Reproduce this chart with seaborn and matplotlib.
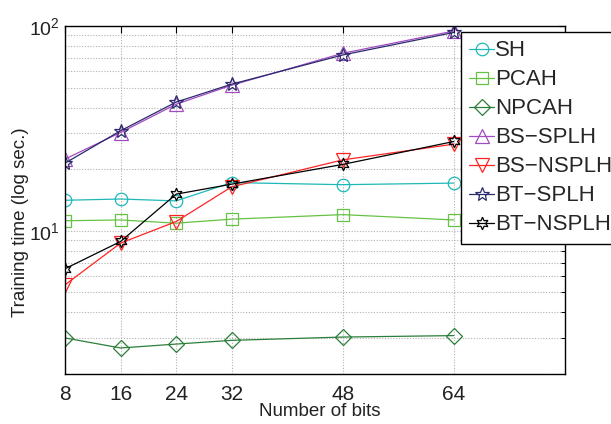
import numpy as np
import pandas as pd
import seaborn as sns
import matplotlib
matplotlib.use("Agg")
import matplotlib.pyplot as plt
from matplotlib.ticker import LogLocator, NullFormatter, FixedLocator

# Training time (seconds) per hashing method vs. code length
bits = [8, 16, 24, 32, 48, 64]
sh = [14.1, 14.3, 14.0, 17.2, 16.8, 17.1]
pcah = [11.2, 11.3, 10.9, 11.4, 12.0, 11.3]
npcah = [3.0, 2.68, 2.80, 2.92, 3.03, 3.08]
bs_splh = [22.4, 30.2, 41.5, 51.4, 73.6, 94.5]
bs_nsplh = [5.45, 8.71, 11.1, 16.4, 22.2, 26.5]
bt_splh = [21.4, 30.8, 42.5, 52.0, 72.2, 93.0]
bt_nsplh = [6.53, 8.87, 15.1, 16.9, 21.1, 27.3]

methods = ["SH", "PCAH", "NPCAH", "BS\u2212SPLH", "BS\u2212NSPLH", "BT\u2212SPLH", "BT\u2212NSPLH"]
series = [sh, pcah, npcah, bs_splh, bs_nsplh, bt_splh, bt_nsplh]
colors = ["#1fb8b8", "#66c244", "#2b7f3a", "#a24cc2", "#ff2424", "#2a2a6c", "#000000"]
markers = ["o", "s", "D", "^", "v", "*", (6, 1, 0)]
msizes = [9, 8, 8, 10, 10, 10, 9]

df = pd.concat(
    [pd.DataFrame({"bits": bits, "time": vals, "method": name})
     for name, vals in zip(methods, series)],
    ignore_index=True,
)

sns.set_theme(style="white")
plt.rcParams["font.family"] = ["Liberation Sans", "DejaVu Sans"]
plt.rcParams["mathtext.fontset"] = "custom"
plt.rcParams["mathtext.rm"] = "Liberation Sans"

fig = plt.figure(figsize=(6.11, 4.24), dpi=100)
ax = fig.add_axes([0.1064, 0.1179, 0.8183, 0.8208])

for name, col, mk, ms in zip(methods, colors, markers, msizes):
    sub = df[df["method"] == name]
    sns.lineplot(
        data=sub, x="bits", y="time", ax=ax, color=col, marker=mk,
        markersize=ms, markerfacecolor="none", markeredgecolor=col,
        markeredgewidth=0.9, linewidth=0.9, label=name,
    )

ax.set_yscale("log")
ax.set_xlim(8, 80)
ax.set_ylim(2, 100)
ax.set_xticks([8, 16, 24, 32, 48, 64])
ax.yaxis.set_major_locator(FixedLocator([10, 100]))
ax.yaxis.set_minor_locator(LogLocator(base=10, subs=np.arange(2, 10)))
ax.yaxis.set_minor_formatter(NullFormatter())

ax.grid(True, which="major", axis="both", linestyle=(0, (1, 1.5)), color="#b0b0b0", linewidth=0.8)
ax.grid(True, which="minor", axis="y", linestyle=(0, (1, 1.5)), color="#b0b0b0", linewidth=0.8)
ax.set_axisbelow(True)

for s in ax.spines.values():
    s.set_color("black")
    s.set_linewidth(1.0)
ax.tick_params(which="both", direction="in", top=True, right=True, color="black")
ax.tick_params(which="major", length=5, width=0.8, labelcolor="#222222")
ax.tick_params(axis="x", which="major", pad=8, labelsize=15)
ax.tick_params(axis="y", which="major", pad=4, labelsize=14)
ax.tick_params(which="minor", length=3, width=0.7)

ax.set_xlabel("Number of bits", fontsize=13.5, color="#222222")
ax.set_ylabel("Training time (log sec.)", fontsize=13.5, color="#222222")
ax.xaxis.set_label_coords(0.51, -0.082)
ax.yaxis.set_label_coords(-0.072, 0.437)

leg = ax.legend(
    loc="upper left", bbox_to_anchor=(461 / 611, 1 - 32 / 424),
    bbox_transform=fig.transFigure, fontsize=16, frameon=True, fancybox=False,
    borderpad=0.38, labelspacing=0.36, handlelength=1.1, handletextpad=0.05,
    borderaxespad=0, framealpha=1,
)
leg.get_frame().set_edgecolor("black")
leg.get_frame().set_linewidth(1.0)

fig.savefig("out.png", dpi=100)
